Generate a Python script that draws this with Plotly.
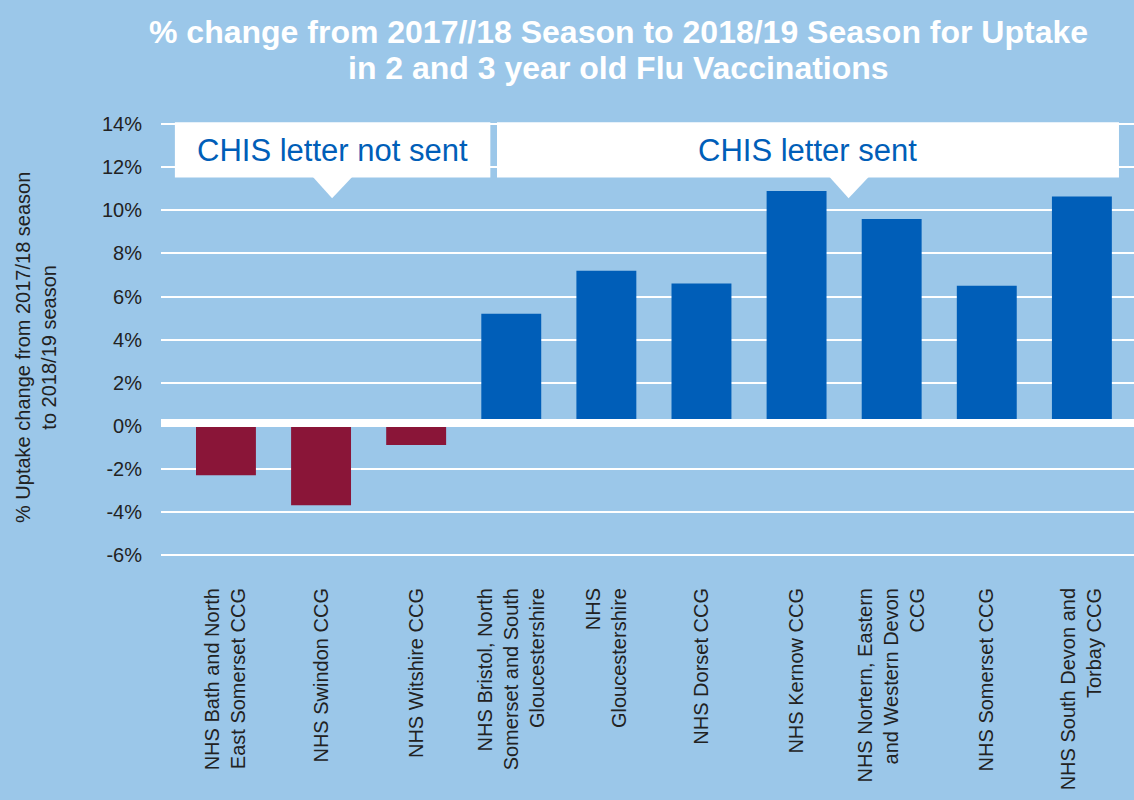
import plotly.graph_objects as go

# ---- data ----
categories = [
    "NHS Bath and North<br>East Somerset CCG",
    "NHS Swindon CCG",
    "NHS Witshire CCG",
    "NHS Bristol, North<br>Somerset and South<br>Gloucestershire",
    "NHS<br>Gloucestershire",
    "NHS Dorset CCG",
    "NHS Kernow CCG",
    "NHS Nortern, Eastern<br>and Western Devon<br>CCG",
    "NHS Somerset CCG",
    "NHS South Devon and<br>Torbay CCG",
]
pct_change = [-2.3, -3.7, -0.9, 5.2, 7.2, 6.6, 10.9, 9.6, 6.5, 10.65]
letter_sent = [False, False, False, True, True, True, True, True, True, True]
y_ticks = [-6, -4, -2, 0, 2, 4, 6, 8, 10, 12, 14]
y_tick_labels = [f"{v}%" for v in y_ticks]

BG = "#9BC7E9"
BLUE = "#005EB8"
RED = "#8A1538"
TXT = "#222222"
FONT = "Liberation Sans, Arial, sans-serif"

colors = [BLUE if s else RED for s in letter_sent]

XMIN, XMAX = -0.683, 9.548
YMIN, YMAX = -6.1, 14.2


def xp(i):
    return (i - XMIN) / (XMAX - XMIN)


fig = go.Figure()
fig.add_trace(go.Bar(
    x=categories, y=pct_change, marker=dict(color=colors, line=dict(width=0)),
    width=0.63, showlegend=False, hoverinfo="x+y",
))

shapes = [
    # thick white zero line
    dict(type="rect", xref="paper", yref="y", x0=0, x1=1, y0=-0.06, y1=0.31,
         fillcolor="white", line=dict(width=0), layer="above"),
    # callout box 1
    dict(type="rect", xref="paper", yref="y", x0=xp(-0.537), x1=xp(2.78), y0=11.53, y1=14.09,
         fillcolor="white", line=dict(width=0), layer="above"),
    dict(type="path", xref="paper", yref="y",
         path=f"M {xp(0.905)},11.6 L {xp(1.337)},11.6 L {xp(1.116)},10.56 Z",
         fillcolor="white", line=dict(width=0), layer="above"),
    # callout box 2
    dict(type="rect", xref="paper", yref="y", x0=xp(2.85), x1=xp(9.39), y0=11.53, y1=14.09,
         fillcolor="white", line=dict(width=0), layer="above"),
    dict(type="path", xref="paper", yref="y",
         path=f"M {xp(6.337)},11.6 L {xp(6.768)},11.6 L {xp(6.547)},10.56 Z",
         fillcolor="white", line=dict(width=0), layer="above"),
]

annotations = [
    dict(text="CHIS letter not sent", xref="paper", yref="y", x=xp(1.116), y=12.8,
         showarrow=False, xanchor="center", yanchor="middle",
         font=dict(family=FONT, size=31, color=BLUE)),
    dict(text="CHIS letter sent", xref="paper", yref="y", x=xp(6.12), y=12.8,
         showarrow=False, xanchor="center", yanchor="middle",
         font=dict(family=FONT, size=31, color=BLUE)),
    dict(text="% change from 2017//18 Season to 2018/19 Season for Uptake",
         xref="paper", yref="paper", x=(618 - 161) / 973, y=(557 - 32) / 437,
         showarrow=False, xanchor="center", yanchor="middle",
         font=dict(family=FONT, size=32, color="white", weight="bold")),
    dict(text="in 2 and 3 year old Flu Vaccinations",
         xref="paper", yref="paper", x=(618 - 161) / 973, y=(557 - 68) / 437,
         showarrow=False, xanchor="center", yanchor="middle",
         font=dict(family=FONT, size=32, color="white", weight="bold")),
    dict(text="% Uptake change from 2017/18 season<br>to 2018/19 season",
         xref="paper", yref="paper", x=(36 - 161) / 973, y=(557 - 348) / 437,
         showarrow=False, xanchor="center", yanchor="middle", textangle=-90, align="center",
         font=dict(family=FONT, size=20, color=TXT)),
]

fig.update_layout(
    width=1134, height=800,
    margin=dict(l=161, r=0, t=120, b=243, pad=0),
    paper_bgcolor=BG, plot_bgcolor=BG,
    font=dict(family=FONT, color=TXT, size=20),
    bargap=0.37,
    shapes=shapes, annotations=annotations,
    xaxis=dict(range=[XMIN, XMAX], tickangle=-90, showgrid=False, showline=False,
               zeroline=False, ticks="outside", ticklen=22, tickcolor="rgba(0,0,0,0)",
               tickfont=dict(family=FONT, size=20, color=TXT), automargin=False),
    yaxis=dict(range=[YMIN, YMAX], tickvals=y_ticks, ticktext=y_tick_labels,
               showgrid=True, gridcolor="white", gridwidth=1.5, zeroline=False,
               showline=False, ticks="outside", ticklen=14, tickcolor="rgba(0,0,0,0)",
               tickfont=dict(family=FONT, size=20, color=TXT), automargin=False),
)

fig.write_html(
    "out.html",
    config={"displayModeBar": False},
    post_script="document.body.style.margin='0';document.body.style.overflow='hidden';",
)
